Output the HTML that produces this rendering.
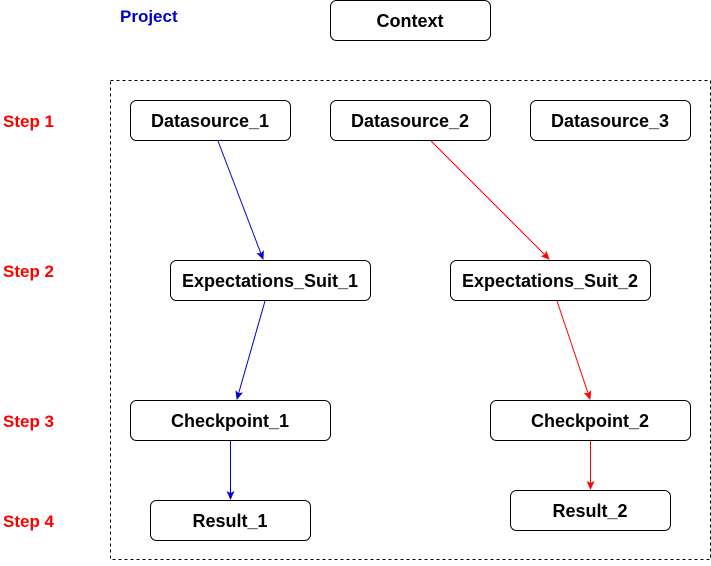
<!DOCTYPE html>
<html><head><style>
body{margin:0;width:711px;height:561px;background:#fff;overflow:hidden}
</style></head><body>
<svg width="711" height="561" xmlns="http://www.w3.org/2000/svg" font-family="Liberation Sans, Arial, sans-serif" font-weight="bold" font-size="17">
<defs>
<marker id="ab" markerWidth="10" markerHeight="10" refX="8" refY="4" orient="auto" markerUnits="userSpaceOnUse"><path d="M0,0 L9,4 L0,8 L2,4 z" fill="#0000CC"/></marker>
<marker id="ar" markerWidth="10" markerHeight="10" refX="8" refY="4" orient="auto" markerUnits="userSpaceOnUse"><path d="M0,0 L9,4 L0,8 L2,4 z" fill="#FF0000"/></marker>
</defs>
<rect x="110.5" y="80.5" width="600" height="479" fill="none" stroke="#000" stroke-dasharray="3,3"/>
<g fill="#fff" stroke="#000">
<rect x="330.5" y="0.5" width="160" height="40" rx="6"/>
<rect x="130.5" y="100.5" width="160" height="40" rx="6"/>
<rect x="330.5" y="100.5" width="160" height="40" rx="6"/>
<rect x="530.5" y="100.5" width="160" height="40" rx="6"/>
<rect x="170.5" y="260.5" width="200" height="40" rx="6"/>
<rect x="450.5" y="260.5" width="200" height="40" rx="6"/>
<rect x="130.5" y="400.5" width="200" height="40" rx="6"/>
<rect x="490.5" y="400.5" width="200" height="40" rx="6"/>
<rect x="150.5" y="500.5" width="160" height="40" rx="6"/>
<rect x="510.5" y="490.5" width="160" height="40" rx="6"/>
</g>
<g text-anchor="middle" fill="#000" font-size="18">
<text x="410" y="27">Context</text>
<text x="210" y="127">Datasource_1</text>
<text x="410" y="127">Datasource_2</text>
<text x="610" y="127">Datasource_3</text>
<text x="270" y="287">Expectations_Suit_1</text>
<text x="550" y="287">Expectations_Suit_2</text>
<text x="230" y="427">Checkpoint_1</text>
<text x="590" y="427">Checkpoint_2</text>
<text x="230" y="527">Result_1</text>
<text x="590" y="517">Result_2</text>
</g>
<text x="120" y="22" fill="#0000CC">Project</text>
<g fill="#FF0000">
<text x="3" y="127">Step 1</text>
<text x="3" y="277">Step 2</text>
<text x="3" y="427">Step 3</text>
<text x="3" y="527">Step 4</text>
</g>
<g stroke="#0000CC" fill="none">
<line x1="218" y1="141" x2="263" y2="259" marker-end="url(#ab)"/>
<line x1="265" y1="301" x2="237" y2="399" marker-end="url(#ab)"/>
<line x1="230.5" y1="441" x2="230.5" y2="499" marker-end="url(#ab)"/>
</g>
<g stroke="#FF0000" fill="none">
<line x1="431" y1="141" x2="549" y2="259" marker-end="url(#ar)"/>
<line x1="557" y1="301" x2="590" y2="399" marker-end="url(#ar)"/>
<line x1="590.5" y1="441" x2="590.5" y2="489" marker-end="url(#ar)"/>
</g>
</svg>
</body></html>
